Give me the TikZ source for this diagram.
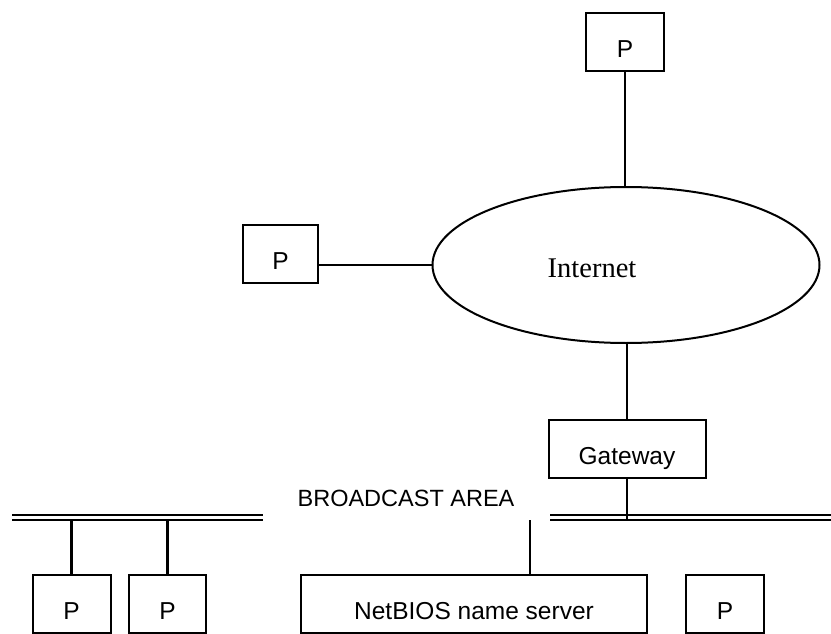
\documentclass[tikz,border=0pt]{standalone}
\usepackage{fontspec}
\setmainfont{Liberation Sans}
\newfontfamily\tmsfont{Liberation Serif}
\usetikzlibrary{shapes.geometric}
\begin{document}
\begin{tikzpicture}[x=1pt,y=-1pt,
  every node/.style={inner sep=0pt, line width=2pt},
  pbox/.style={draw, minimum width=78pt, minimum height=58pt,
    font=\fontsize{24.5}{24.5}\selectfont, text height=31pt, text depth=0pt},
  conn/.style={line width=2.1pt},
  bus/.style={line width=2.3pt, double distance=2.3pt}]
\useasboundingbox (0,0) rectangle (831,634);
% Internet
\node[ellipse, draw, minimum width=387pt, minimum height=156pt] (inet) at (626,265) {};
\node[font=\tmsfont\fontsize{28.5}{28.5}\selectfont, anchor=base] (inettxt) at (592,277) {Internet};
% top and left P
\node[pbox] (ptop) at (625,42) {P};
\node[pbox, minimum width=75pt] (pleft) at (280.5,254) {P};
% gateway
\node[pbox, minimum width=157pt] (gw) at (627,449) {Gateway};
% buses
\coordinate (busL1) at (12,517.5);
\coordinate (busL2) at (263,517.5);
\coordinate (busR1) at (550,517.5);
\coordinate (busR2) at (835,517.5);
\draw[bus] (busL1) -- (busL2);
\draw[bus] (busR1) -- (busR2);
\coordinate (busedge) at (0,520);
\node[font=\fontsize{23.5}{23.5}\selectfont, anchor=base] (bca) at (406,506) {BROADCAST AREA};
% bottom nodes
\node[pbox] (p1) at (71.5,604) {P};
\node[pbox, minimum width=77pt] (p2) at (167.5,604) {P};
\node[pbox, minimum width=346pt] (ns) at (474,604) {NetBIOS name server};
\node[pbox] (p3) at (725,604) {P};
% connectors
\draw[conn] (ptop.south) -- (ptop.south |- inet.north);
\draw[conn] (pleft.east |- inet.west) -- (inet.west);
\draw[conn] (inet.south -| gw.north) -- (gw.north);
\draw[conn] (gw.south) -- (gw.south |- busedge);
\draw[conn] (p1.north) -- (p1.north |- busedge);
\draw[conn] (p2.north) -- (p2.north |- busedge);
\coordinate (nstop) at (530,520);
\draw[conn] (nstop) -- (nstop |- ns.north);
\end{tikzpicture}
\end{document}
